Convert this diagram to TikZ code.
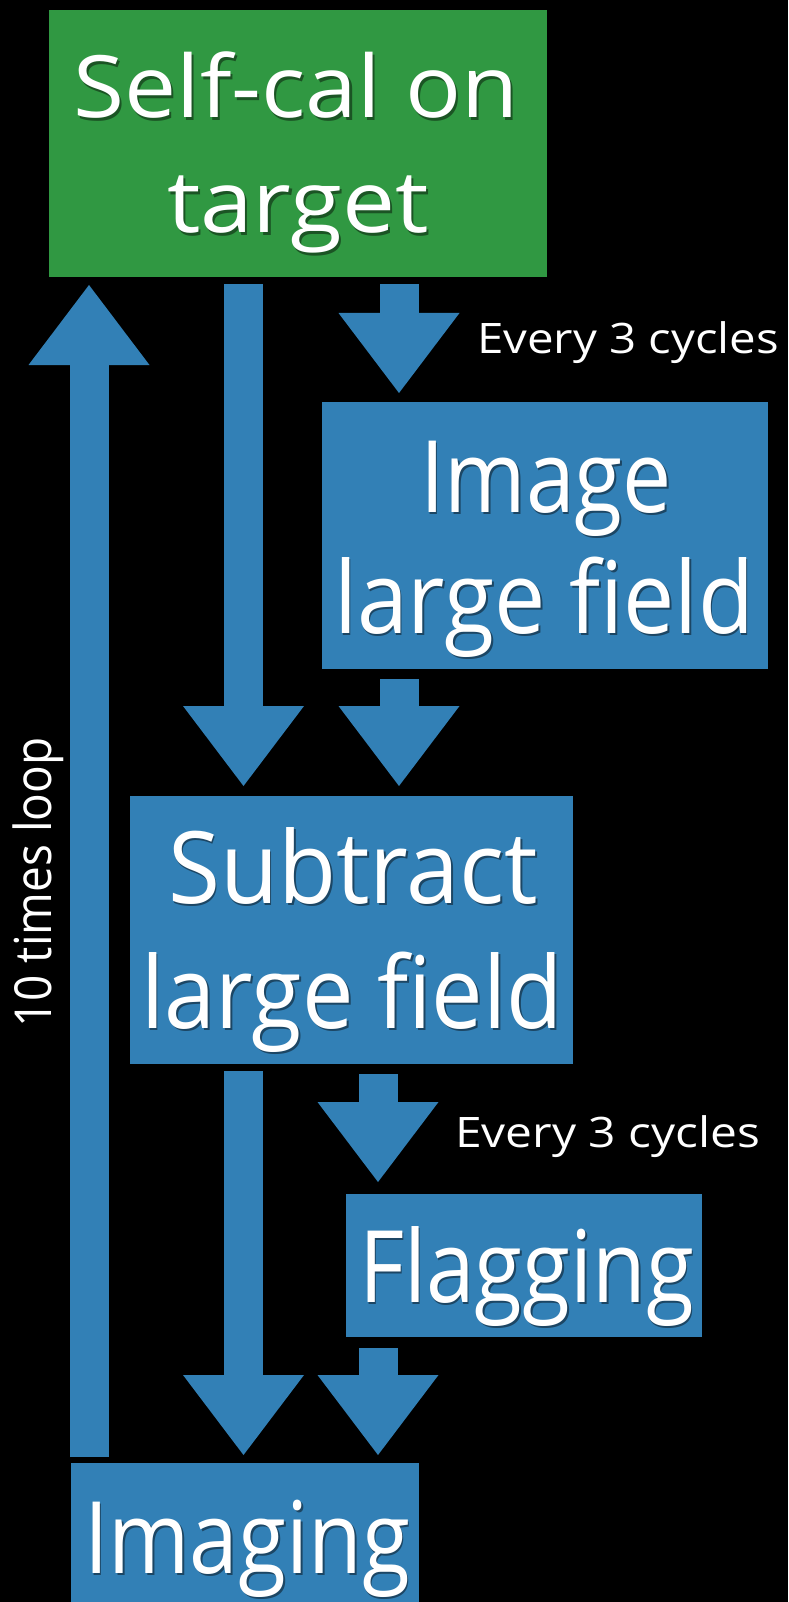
\documentclass[tikz,border=0pt]{standalone}
\usepackage{fontspec}
\setmainfont{Open Sans}
\usetikzlibrary{arrows.meta}

\definecolor{boxblue}{RGB}{50,128,182}
\definecolor{boxgreen}{RGB}{48,152,66}

% set a line to a given width by horizontal scaling only
\newsavebox\fitbox
\newlength\fitlen
\newcommand\fitw[2]{\sbox\fitbox{#2}\setlength\fitlen{\wd\fitbox}%
  \pgfmathsetmacro\fitr{#1/\fitlen}\scalebox{\fitr}[1]{\usebox\fitbox}}
% white lettering with a soft drop shadow
\newcommand\shadowed[2]{\leavevmode\rlap{\kern2pt\raisebox{-2.5pt}{\textcolor{#1}{#2}}}#2}

\tikzset{
  stage/.style={rectangle, inner sep=0pt, outer sep=0pt, draw=none},
  bigtext/.style={anchor=base, inner sep=0pt, text=white, font=\fontsize{100}{100}\selectfont},
  greentext/.style={anchor=base, inner sep=0pt, text=white, font=\fontsize{86}{86}\selectfont},
  note/.style={anchor=base, inner sep=0pt, text=white, font=\fontsize{42}{42}\selectfont},
  flow/.style={draw=boxblue, line width=39pt,
    -{Triangle[width=121pt,length=80pt,line width=0pt]}},
}

\begin{document}
\begin{tikzpicture}[x=1pt, y=-1pt]
\useasboundingbox (0,0) rectangle (788,1602);
\fill[black] (0,0) rectangle (788,1602);

% stages
\node[stage, fill=boxgreen, minimum width=498pt, minimum height=267pt] (selfcal) at (298,143.5) {};
\node[stage, fill=boxblue, minimum width=446pt, minimum height=267pt] (imgfield) at (545,535.5) {};
\node[stage, fill=boxblue, minimum width=443pt, minimum height=268pt] (subtract) at (351.5,930) {};
\node[stage, fill=boxblue, minimum width=356pt, minimum height=143pt] (flagging) at (524,1265.5) {};
\node[stage, fill=boxblue, minimum width=348pt, minimum height=180pt] (imaging) at (245,1553) {};

% stage captions
\node[greentext] (selfcal-l1) at (296,118) {\fitw{445}{\shadowed{boxgreen!55!black}{Self-cal on}}};
\node[greentext] (selfcal-l2) at (298,233) {\fitw{262}{\shadowed{boxgreen!55!black}{target}}};
\node[bigtext] (imgfield-l1) at (546,512) {\fitw{252}{\shadowed{boxblue!55!black}{Image}}};
\node[bigtext] (imgfield-l2) at (544,633) {\fitw{420}{\shadowed{boxblue!55!black}{large field}}};
\node[bigtext] (subtract-l1) at (353,903) {\fitw{370}{\shadowed{boxblue!55!black}{Subtract}}};
\node[bigtext] (subtract-l2) at (352,1028) {\fitw{422}{\shadowed{boxblue!55!black}{large field}}};
\node[bigtext] (flagging-l1) at (526.5,1302) {\fitw{335}{\shadowed{boxblue!55!black}{Flagging}}};
\node[bigtext] (imaging-l1) at (247,1573) {\fitw{326}{\shadowed{boxblue!55!black}{Imaging}}};

% columns of the connectors
\coordinate (colL) at (89,0);
\coordinate (colA) at (243.5,0);
\coordinate (colB) at (399,0);
\coordinate (colC) at (378,0);

% connectors
\draw[flow, shorten <=6pt, shorten >=8pt] (imaging.north -| colL) -- (selfcal.south -| colL);
\draw[flow, shorten <=7pt, shorten >=10pt] (selfcal.south -| colA) -- (subtract.north -| colA);
\draw[flow, shorten <=7pt, shorten >=9pt] (selfcal.south -| colB) -- (imgfield.north -| colB);
\draw[flow, shorten <=10pt, shorten >=10pt] (imgfield.south -| colB) -- (subtract.north -| colB);
\draw[flow, shorten <=7pt, shorten >=8pt] (subtract.south -| colA) -- (imaging.north -| colA);
\draw[flow, shorten <=10pt, shorten >=12pt] (subtract.south -| colC) -- (flagging.north -| colC);
\draw[flow, shorten <=11pt, shorten >=8pt] (flagging.south -| colC) -- (imaging.north -| colC);

% annotations
\node[note] (every1) at (628,353) {\fitw{302}{Every 3 cycles}};
\node[note] (every2) at (607.5,1147) {\fitw{305}{Every 3 cycles}};
\node[note, rotate=90, font=\fontsize{51}{51}\selectfont] (loop) at (51,882.5) {\fitw{290}{10 times loop}};
\end{tikzpicture}
\end{document}
